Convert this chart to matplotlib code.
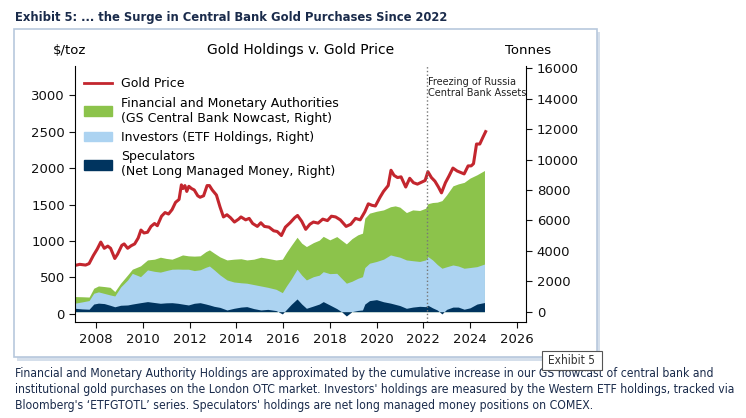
import matplotlib
matplotlib.use("Agg")
import matplotlib.pyplot as plt
from matplotlib.patches import Patch, Rectangle
from matplotlib.lines import Line2D
import numpy as np

# gold price, $/toz
price_years = [2007.10, 2007.30, 2007.55, 2007.70, 2007.88, 2008.05, 2008.20, 2008.35, 2008.50, 2008.62,
               2008.80, 2008.92, 2009.10, 2009.20, 2009.35, 2009.50, 2009.65, 2009.80, 2009.92, 2010.05,
               2010.20, 2010.35, 2010.50, 2010.62, 2010.80, 2010.95, 2011.10, 2011.25, 2011.40, 2011.55,
               2011.65, 2011.72, 2011.80, 2011.88, 2011.97, 2012.08, 2012.20, 2012.35, 2012.45, 2012.60,
               2012.75, 2012.85, 2012.97, 2013.15, 2013.30, 2013.45, 2013.60, 2013.75, 2013.92, 2014.10,
               2014.20, 2014.40, 2014.55, 2014.70, 2014.90, 2015.05, 2015.20, 2015.40, 2015.60, 2015.75,
               2015.93, 2016.10, 2016.30, 2016.50, 2016.62, 2016.80, 2016.97, 2017.15, 2017.30, 2017.50,
               2017.70, 2017.90, 2018.07, 2018.25, 2018.45, 2018.70, 2018.90, 2019.10, 2019.30, 2019.50,
               2019.65, 2019.80, 2019.95, 2020.15, 2020.30, 2020.50, 2020.62, 2020.75, 2020.90, 2021.05,
               2021.25, 2021.42, 2021.58, 2021.75, 2021.95, 2022.08, 2022.20, 2022.35, 2022.50, 2022.65,
               2022.78, 2022.95, 2023.10, 2023.27, 2023.45, 2023.60, 2023.75, 2023.92, 2024.05, 2024.15,
               2024.28, 2024.42, 2024.55, 2024.67]
gold_price = [665, 680, 670, 690, 800, 890, 985, 900, 930, 900,
              760, 820, 940, 960, 900, 935, 960, 1040, 1150, 1110,
              1120, 1200, 1240, 1210, 1340, 1390, 1370, 1430, 1530, 1570,
              1770, 1720, 1760, 1680, 1750, 1720, 1700, 1620, 1600, 1620,
              1760, 1760, 1700, 1630, 1470, 1330, 1360, 1320, 1260, 1300,
              1330, 1290, 1310, 1240, 1200, 1250, 1200, 1190, 1140, 1130,
              1075, 1190, 1250, 1320, 1350, 1270, 1160, 1230, 1260, 1245,
              1300, 1280, 1340, 1330, 1290, 1200, 1230, 1310, 1290, 1400,
              1510, 1490, 1480, 1600, 1680, 1760, 1970, 1900, 1870, 1880,
              1740, 1860, 1800, 1780, 1810, 1830, 1950, 1870, 1820, 1740,
              1660, 1800, 1890, 2000, 1960, 1940, 1920, 2030, 2030, 2060,
              2330, 2330, 2420, 2500]

# holdings, tonnes
hold_years = [2007.10, 2007.40, 2007.70, 2007.90, 2008.10, 2008.35, 2008.60, 2008.80, 2009.05, 2009.35,
              2009.55, 2009.90, 2010.20, 2010.50, 2010.75, 2011.00, 2011.25, 2011.50, 2011.70, 2011.95,
              2012.20, 2012.45, 2012.70, 2012.85, 2013.05, 2013.30, 2013.60, 2013.90, 2014.20, 2014.45,
              2014.75, 2015.05, 2015.35, 2015.70, 2015.97, 2016.15, 2016.35, 2016.60, 2016.80, 2017.00,
              2017.30, 2017.55, 2017.72, 2018.00, 2018.30, 2018.50, 2018.71, 2018.95, 2019.20, 2019.40,
              2019.50, 2019.70, 2020.00, 2020.30, 2020.60, 2020.80, 2021.00, 2021.28, 2021.55, 2021.85,
              2022.10, 2022.20, 2022.40, 2022.60, 2022.80, 2023.00, 2023.27, 2023.50, 2023.75, 2024.00,
              2024.30, 2024.62]
speculators = [220, 180, 160, 500, 560, 530, 420, 320, 420, 440,
               500, 590, 660, 600, 550, 580, 590, 550, 500, 440,
               550, 590, 500, 440, 350, 280, 110, 220, 300, 330,
               200, 110, 150, 70, -150, 150, 480, 835, 500, 220,
               370, 500, 660, 440, 200, 0, -285, 0, 80, 110,
               500, 725, 790, 650, 560, 480, 400, 220, 300, 350,
               330, 420, 250, 110, -150, 150, 300, 300, 160, 250,
               500, 600]
investors = [340, 460, 570, 710, 740, 670, 680, 710, 1200, 1645,
             2020, 1710, 2085, 2050, 2050, 2120, 2200, 2250, 2290, 2350,
             2150, 2160, 2420, 2560, 2400, 2135, 1975, 1730, 1600, 1540,
             1580, 1580, 1450, 1400, 1400, 1550, 1670, 1955, 1900, 1865,
             1930, 1900, 1970, 2060, 2320, 2200, 2155, 2000, 2110, 2190,
             2400, 2460, 2510, 2800, 3170, 3170, 3180, 3180, 3050, 2950,
             3070, 3200, 3150, 2990, 3005, 2800, 2770, 2700, 2695, 2650,
             2460, 2530]
central_banks = [430, 340, 230, 330, 390, 450, 500, 290, 250, 330,
                 270, 710, 655, 800, 980, 800, 660, 800, 940, 880,
                 950, 920, 1030, 1060, 1100, 1185, 1315, 1500, 1580, 1530,
                 1670, 1890, 1900, 1930, 2200, 2200, 2200, 2100, 2100, 2195,
                 2240, 2300, 2320, 2220, 2415, 2500, 2585, 2800, 2860, 2860,
                 3245, 3290, 3300, 3240, 3170, 3305, 3290, 3115, 3340, 3350,
                 3400, 3480, 3775, 4100, 4445, 4730, 5200, 5400, 5645, 5880,
                 6040, 6150]

x_ticks = list(range(2008, 2027, 2))
left_ticks = [0, 500, 1000, 1500, 2000, 2500, 3000]
right_ticks = list(range(0, 16001, 2000))
freeze_date = 2022.15

RED = "#c3262e"
GREEN = "#8cc34b"
LBLUE = "#acd3f1"
NAVY = "#00345f"
TXT = "#1a2b4b"
NARROW = dict(family="DejaVu Sans", fontstretch="condensed")

fig = plt.figure(figsize=(7.46, 4.18), dpi=100)

# panel with shadow
W, H = 746.0, 418.0
def box(x0, y0, x1, y1):
    return (x0 / W, 1 - y1 / H, (x1 - x0) / W, (y1 - y0) / H)

bx = box(17, 32, 600, 361)
fig.patches.append(Rectangle(bx[:2], bx[2], bx[3], transform=fig.transFigure,
                             facecolor="#d5dfeb", edgecolor="none", zorder=0))
bx = box(14, 29, 597, 357)
fig.patches.append(Rectangle(bx[:2], bx[2], bx[3], transform=fig.transFigure,
                             facecolor="white", edgecolor="#b7c8dd", linewidth=1.2, zorder=0.5))

fig.text(15 / W, 1 - 17 / H, "Exhibit 5: ... the Surge in Central Bank Gold Purchases Since 2022",
         fontsize=9.3, fontweight="bold", color=TXT, va="center", ha="left", **NARROW)

ax = fig.add_axes([75.3 / W, 1 - 322.3 / H, (526.3 - 75.3) / W, (322.3 - 66) / H])
ax2 = ax.twinx()
ax2.set_zorder(2)
ax.set_zorder(3)
ax2.patch.set_visible(False)
ax.patch.set_visible(False)

# stacked holdings on right axis
spec = np.array(speculators)
lvl1 = spec + np.array(investors)
lvl2 = lvl1 + np.array(central_banks)
ax2.fill_between(hold_years, 0, lvl2, color=GREEN, linewidth=0)
ax2.fill_between(hold_years, 0, lvl1, color=LBLUE, linewidth=0)
ax2.fill_between(hold_years, 0, spec, color=NAVY, linewidth=0)
ax2.set_ylim(-700, 16150)
ax2.set_yticks(right_ticks)

ax.plot(price_years, gold_price, color=RED, linewidth=2.2)
ax.axvline(freeze_date, color="#777777", linestyle=":", linewidth=1)
ax.text(freeze_date + 0.05, 3255, "Freezing of Russia\nCentral Bank Assets", fontsize=7,
        va="top", ha="left", color="#222222", linespacing=1.2)
ax.set_ylim(-115, 3400)
ax.set_yticks(left_ticks)
ax.set_xlim(2007.11, 2026.41)
ax.set_xticks(x_ticks)

for a in (ax, ax2):
    a.spines["top"].set_visible(False)
    a.tick_params(labelsize=9.5, length=4, colors="#111111")
ax2.spines["left"].set_visible(False)
ax2.spines["bottom"].set_visible(False)
ax.spines["right"].set_visible(False)

handles = [Line2D([], [], color=RED, linewidth=2),
           Patch(color=GREEN), Patch(color=LBLUE), Patch(color=NAVY)]
labels = ["Gold Price",
          "Financial and Monetary Authorities\n(GS Central Bank Nowcast, Right)",
          "Investors (ETF Holdings, Right)",
          "Speculators\n(Net Long Managed Money, Right)"]
ax.legend(handles, labels, loc="upper left", bbox_to_anchor=(0.0, 0.99), frameon=False,
          fontsize=9, handlelength=2.2, handleheight=0.8, handletextpad=0.75, labelspacing=0.5,
          borderaxespad=0.3)

fig.text(70 / W, 1 - 50 / H, "$/toz", fontsize=9.5, ha="center", va="center")
fig.text(301 / W, 1 - 50 / H, "Gold Holdings v. Gold Price", fontsize=10, ha="center", va="center")
fig.text(528 / W, 1 - 50 / H, "Tonnes", fontsize=9.5, ha="center", va="center")

# "Exhibit 5" tag
bx = box(542, 351, 602, 370)
fig.patches.append(Rectangle(bx[:2], bx[2], bx[3], transform=fig.transFigure,
                             facecolor="white", edgecolor="#555555", linewidth=0.8, zorder=5))
fig.text(572 / W, 1 - 360.5 / H, "Exhibit 5", fontsize=8.6, ha="center", va="center", color="#333333",
         zorder=6, **NARROW)

foot = ("Financial and Monetary Authority Holdings are approximated by the cumulative increase in our GS nowcast of central bank and\n"
        "institutional gold purchases on the London OTC market. Investors' holdings are measured by the Western ETF holdings, tracked via\n"
        "Bloomberg's \u2018ETFGTOTL\u2019 series. Speculators' holdings are net long managed money positions on COMEX.")
fig.text(15 / W, 1 - 389.5 / H, foot, fontsize=8.75, ha="left", va="center", color=TXT,
         linespacing=1.3, zorder=4, **NARROW)

fig.savefig("out.png", dpi=100)
